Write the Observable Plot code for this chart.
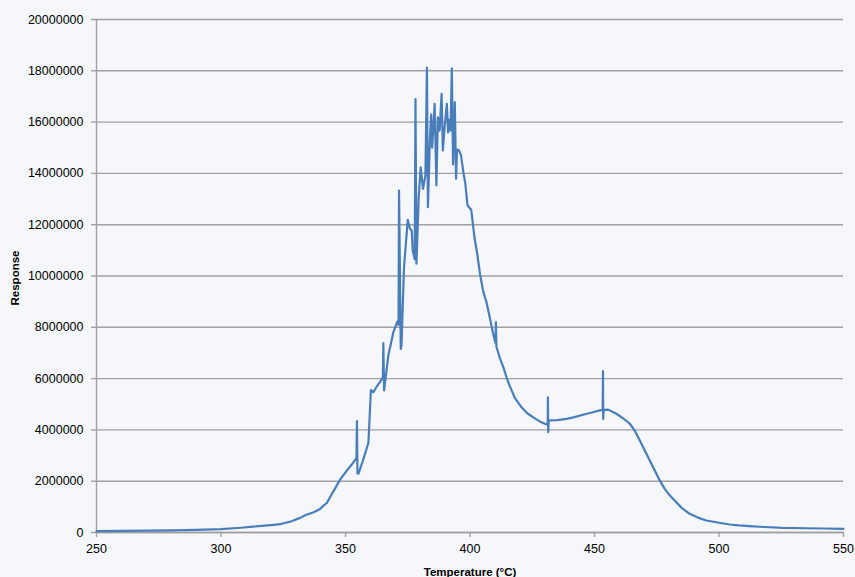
<!DOCTYPE html>
<html>
<head>
<meta charset="utf-8">
<script src="https://cdn.jsdelivr.net/npm/d3@7"></script>
<script src="https://cdn.jsdelivr.net/npm/@observablehq/plot@0.6"></script>
<style>
  html, body { margin: 0; padding: 0; background: #f5f7fa; }
  #chart svg { display: block; }
</style>
</head>
<body>
<div id="chart"></div>
<script>
// Thermal desorption trace: detector response vs. temperature
const temperature = [
  250, 260, 270, 280, 290, 300, 308, 315, 320, 324, 328, 331.8, 334, 337.2, 339.8,
  341.2, 342.5, 344.5, 346, 347.9, 350.6, 352.5, 354.4, 354.6, 354.8, 355.2, 357,
  359.2, 359.6, 360.2, 361.2, 362.6, 364.4, 365.0, 365.2, 365.5, 367.2, 369.2, 370.8,
  371.3, 371.5, 372.2, 372.5, 373.5, 375.0, 375.9, 376.6, 377.0, 377.8, 378.1, 378.5,
  379.4, 380.2, 381.1, 382.1, 382.7, 383.1, 383.9, 384.4, 384.8, 385.8, 386.5, 387.1,
  387.8, 388.6, 389.1, 389.8, 390.7, 391.2, 391.8, 392.2, 392.7, 393.2, 393.9, 394.4,
  394.8, 395.6, 396.4, 397.4, 398.1, 399.0, 400.5, 401.8, 403.0, 404.0, 405.3, 406.7,
  408.0, 409.3, 410.2, 410.4, 410.6, 412, 413.4, 414.7, 416, 418.0, 420.7, 423, 425.4,
  428, 430.8, 431.2, 431.3, 431.4, 431.6, 432.1, 435, 438.8, 442, 445.4, 449, 452.1,
  453.3, 453.4, 453.5, 453.7, 455.5, 458.8, 461.5, 464.2, 466.3, 468.2, 470.2, 472.2,
  474.2, 476.2, 478.2, 480.2, 482.2, 485, 488.2, 491.5, 494.9, 500, 504.3, 508, 512.3,
  518, 525.7, 535, 542, 550
];
const response = [
  50000, 60000, 70000, 85000, 105000, 135000, 185000, 250000, 290000, 330000, 430000,
  570000, 680000, 790000, 920000, 1050000, 1150000, 1500000, 1750000, 2070000, 2420000,
  2650000, 2900000, 4340000, 2300000, 2290000, 2800000, 3500000, 4300000, 5550000,
  5470000, 5700000, 5950000, 6050000, 7380000, 5540000, 6900000, 7800000, 8220000,
  8100000, 13330000, 7160000, 7300000, 10340000, 12190000, 11840000, 11770000, 10990000,
  10650000, 16900000, 10480000, 13070000, 14240000, 13400000, 13920000, 18120000,
  12680000, 15300000, 16300000, 15000000, 16710000, 13530000, 16190000, 15670000,
  17100000, 14890000, 15800000, 16710000, 15600000, 16100000, 15670000, 18100000,
  14350000, 16780000, 13790000, 14930000, 14900000, 14700000, 14000000, 13620000,
  12750000, 12580000, 11500000, 10800000, 10090000, 9400000, 8950000, 8350000, 7750000,
  7400000, 8200000, 7250000, 6800000, 6440000, 6050000, 5700000, 5250000, 4880000,
  4650000, 4490000, 4330000, 4210000, 4200000, 5270000, 3910000, 4350000, 4370000,
  4380000, 4430000, 4500000, 4590000, 4680000, 4760000, 4780000, 6290000, 4430000,
  4780000, 4790000, 4630000, 4450000, 4240000, 3950000, 3590000, 3200000, 2810000,
  2420000, 2030000, 1700000, 1450000, 1250000, 960000, 728000, 580000, 468000, 380000,
  312000, 275000, 246000, 215000, 183000, 165000, 155000, 144000
];
const xTicks = [250, 300, 350, 400, 450, 500, 550];
const yTicks = [0, 2000000, 4000000, 6000000, 8000000, 10000000, 12000000, 14000000,
  16000000, 18000000, 20000000];

const trace = temperature.map((t, i) => ({t, r: response[i]}));

const gridColor = "#a0a0a0";
const font = "'Liberation Sans', Arial, sans-serif";

const chart = Plot.plot({
  width: 855,
  height: 577,
  marginLeft: 96,
  marginRight: 12,
  marginTop: 19,
  marginBottom: 45,
  style: {background: "#f5f7fa", fontFamily: font, fontSize: "12.5px", color: "#000"},
  x: {domain: [250, 550]},
  y: {domain: [0, 20000000]},
  marks: [
    Plot.gridY(yTicks, {stroke: gridColor, strokeOpacity: 1, strokeWidth: 1.4}),
    Plot.ruleX([250], {stroke: gridColor, strokeWidth: 1.4}),
    Plot.ruleY([0], {stroke: gridColor, strokeWidth: 1.4}),
    Plot.axisY(yTicks, {
      tickSize: 5, tickPadding: 8, stroke: gridColor, strokeWidth: 1.4,
      tickFormat: d3.format("d"), label: null, fill: "#000"
    }),
    Plot.axisX(xTicks, {
      tickSize: 5, tickPadding: 7, stroke: gridColor, strokeWidth: 1.4,
      tickFormat: d3.format("d"), label: null, fill: "#000"
    }),
    Plot.line(trace, {
      x: "t", y: "r", stroke: "#4a7ebb", strokeWidth: 2.2,
      strokeLinejoin: "round", strokeLinecap: "round"
    }),
    Plot.text(["Response"], {
      frameAnchor: "left", textAnchor: "middle", lineAnchor: "middle",
      dx: -81, dy: 2, rotate: -90,
      fontWeight: "bold", fontSize: 11.5, fill: "#000"
    }),
    Plot.text(["Temperature (°C)"], {
      frameAnchor: "bottom", textAnchor: "middle", lineAnchor: "middle", dy: 40,
      fontWeight: "bold", fontSize: 11.5, fill: "#000"
    })
  ]
});

document.getElementById("chart").append(chart);
</script>
</body>
</html>
